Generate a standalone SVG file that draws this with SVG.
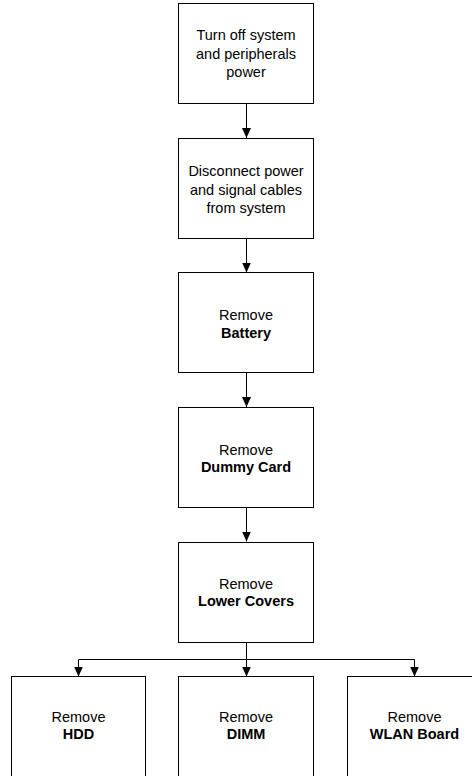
<svg xmlns="http://www.w3.org/2000/svg" width="472" height="776" viewBox="0 0 472 776">
<style>
.box{fill:#fff;stroke:#000;stroke-width:1}
.t{font-family:"Liberation Sans",Arial,sans-serif;font-size:14.5px;fill:#000;text-anchor:middle}
.b{font-weight:bold}
.c{fill:none;stroke:#000;stroke-width:1}
</style>
<defs>
<marker id="ah" markerUnits="userSpaceOnUse" markerWidth="10" markerHeight="10" refX="10" refY="5" orient="auto">
<path d="M0,0.5 L10,5 L0,9.5 z" fill="#000"/>
</marker>
</defs>
<rect width="472" height="776" fill="#fff"/>
<g id="connectors">
<path class="c" d="M246.5,103.5 V138" marker-end="url(#ah)"/>
<path class="c" d="M246.5,238.5 V272.5" marker-end="url(#ah)"/>
<path class="c" d="M246.5,372.5 V407" marker-end="url(#ah)"/>
<path class="c" d="M246.5,507.5 V541.5" marker-end="url(#ah)"/>
<path class="c" d="M246.5,642.5 V676.5" marker-end="url(#ah)"/>
<path class="c" d="M78.5,659.5 H414.5"/>
<path class="c" d="M78.5,659.5 V676.5" marker-end="url(#ah)"/>
<path class="c" d="M414.5,659.5 V676.5" marker-end="url(#ah)"/>
</g>
<g id="n1">
<rect class="box" x="178.5" y="3.5" width="135" height="100"/>
<text class="t" x="246" y="40">Turn off system</text>
<text class="t" x="246" y="58.5">and peripherals</text>
<text class="t" x="246" y="77">power</text>
</g>
<g id="n2">
<rect class="box" x="178.5" y="138.5" width="135" height="100"/>
<text class="t" x="246" y="176">Disconnect power</text>
<text class="t" x="246" y="194.5">and signal cables</text>
<text class="t" x="246" y="213">from system</text>
</g>
<g id="n3">
<rect class="box" x="178.5" y="272.5" width="135" height="100"/>
<text class="t" x="246" y="320">Remove</text>
<text class="t b" x="246" y="338">Battery</text>
</g>
<g id="n4">
<rect class="box" x="178.5" y="407.5" width="135" height="100"/>
<text class="t" x="246" y="455">Remove</text>
<text class="t b" x="246" y="472">Dummy Card</text>
</g>
<g id="n5">
<rect class="box" x="178.5" y="542.5" width="135" height="100"/>
<text class="t" x="246" y="588.5">Remove</text>
<text class="t b" x="246" y="605.5">Lower Covers</text>
</g>
<g id="n6">
<rect class="box" x="11.5" y="676.5" width="134" height="110"/>
<text class="t" x="78.5" y="722">Remove</text>
<text class="t b" x="78.5" y="739">HDD</text>
</g>
<g id="n7">
<rect class="box" x="178.5" y="676.5" width="135" height="110"/>
<text class="t" x="246" y="722">Remove</text>
<text class="t b" x="246" y="739">DIMM</text>
</g>
<g id="n8">
<rect class="box" x="347.5" y="676.5" width="135" height="110"/>
<text class="t" x="414.5" y="722">Remove</text>
<text class="t b" x="414.5" y="739">WLAN Board</text>
</g>
</svg>
